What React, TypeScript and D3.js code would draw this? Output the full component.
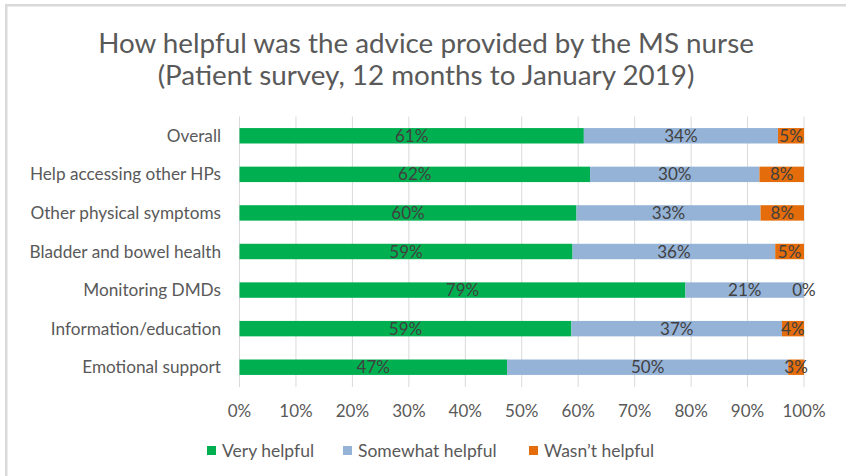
import React from "react";
import * as d3 from "d3";

const categories = [
  "Overall",
  "Help accessing other HPs",
  "Other physical symptoms",
  "Bladder and bowel health",
  "Monitoring DMDs",
  "Information/education",
  "Emotional support",
];
const seriesNames = ["Very helpful", "Somewhat helpful", "Wasn\u2019t helpful"];
const veryHelpful = [61.0, 62.1, 59.7, 59.0, 79.0, 58.8, 47.4];
const somewhatHelpful = [34.4, 30.0, 32.6, 35.9, 21.0, 37.3, 49.8];
const wasntHelpful = [4.6, 7.9, 7.7, 5.1, 0.0, 3.9, 2.8];
const xTicks = [0, 10, 20, 30, 40, 50, 60, 70, 80, 90, 100];
const titleLines = [
  "How helpful was the advice provided by the MS nurse",
  "(Patient survey, 12 months to January 2019)",
];
const colors = ["#00B050", "#95B3D7", "#E46C0A"];

const W = 846;
const H = 476;
const FONT = "Lato, 'Open Sans', sans-serif";

export default function App() {
  const x = d3.scaleLinear().domain([0, 100]).range([239.5, 804]);
  const y = d3.scaleBand<string>().domain(categories).range([116.5, 386.5]).paddingInner(0.6).paddingOuter(0.3);

  const rows = categories.map((c, i) => ({
    cat: c,
    values: [veryHelpful[i], somewhatHelpful[i], wasntHelpful[i]],
  }));
  const stack = d3.stack<any>().keys(["0", "1", "2"])(
    rows.map((r) => ({ "0": r.values[0], "1": r.values[1], "2": r.values[2], cat: r.cat }))
  );

  const legendItems = [
    { x: 207, tx: 222 },
    { x: 343, tx: 358 },
    { x: 529, tx: 544 },
  ];

  return (
    <svg width={W} height={H} style={{ position: "absolute", left: 0, top: 0, background: "#fff" }}>
      <rect x={0} y={0} width={W} height={H} fill="#fff" />
      <rect x={5} y={4} width={W - 5} height={2.5} fill="#D9D9D9" />
      <rect x={5} y={4} width={2.5} height={H - 4} fill="#D9D9D9" />
      {titleLines.map((t, i) => (
        <text key={i} x={426} y={52.5 + i * 32} textAnchor="middle" fontFamily={FONT} fontSize={27.8} fill="#595959">
          {t}
        </text>
      ))}
      {xTicks.map((t) => (
        <line key={t} x1={x(t)} x2={x(t)} y1={116.5} y2={387} stroke="#D9D9D9" strokeWidth={1} />
      ))}
      {stack.map((s, si) =>
        s.map((d: any, i: number) => (
          <rect
            key={si + "-" + i}
            x={x(d[0])}
            y={y(categories[i])!}
            width={Math.max(0, x(d[1]) - x(d[0]))}
            height={y.bandwidth()}
            fill={colors[si]}
          />
        ))
      )}
      {stack.map((s, si) =>
        s.map((d: any, i: number) => (
          <text
            key={"l" + si + "-" + i}
            x={(x(d[0]) + x(d[1])) / 2}
            y={y(categories[i])! + y.bandwidth() / 2 + 6}
            textAnchor="middle"
            fontFamily={FONT}
            fontSize={17}
            fill="#404040"
          >
            {Math.round(d[1] - d[0]) + "%"}
          </text>
        ))
      )}
      {categories.map((c) => (
        <text key={c} x={221} y={y(c)! + y.bandwidth() / 2 + 6} textAnchor="end" fontFamily={FONT} fontSize={17.2} fill="#595959">
          {c}
        </text>
      ))}
      {xTicks.map((t) => (
        <text key={"t" + t} x={x(t)} y={417} textAnchor="middle" fontFamily={FONT} fontSize={17} fill="#595959">
          {t + "%"}
        </text>
      ))}
      {seriesNames.map((n, i) => (
        <g key={n}>
          <rect x={legendItems[i].x} y={446} width={9} height={9} fill={colors[i]} />
          <text x={legendItems[i].tx} y={457} fontFamily={FONT} fontSize={17.5} fill="#595959">
            {n}
          </text>
        </g>
      ))}
    </svg>
  );
}
